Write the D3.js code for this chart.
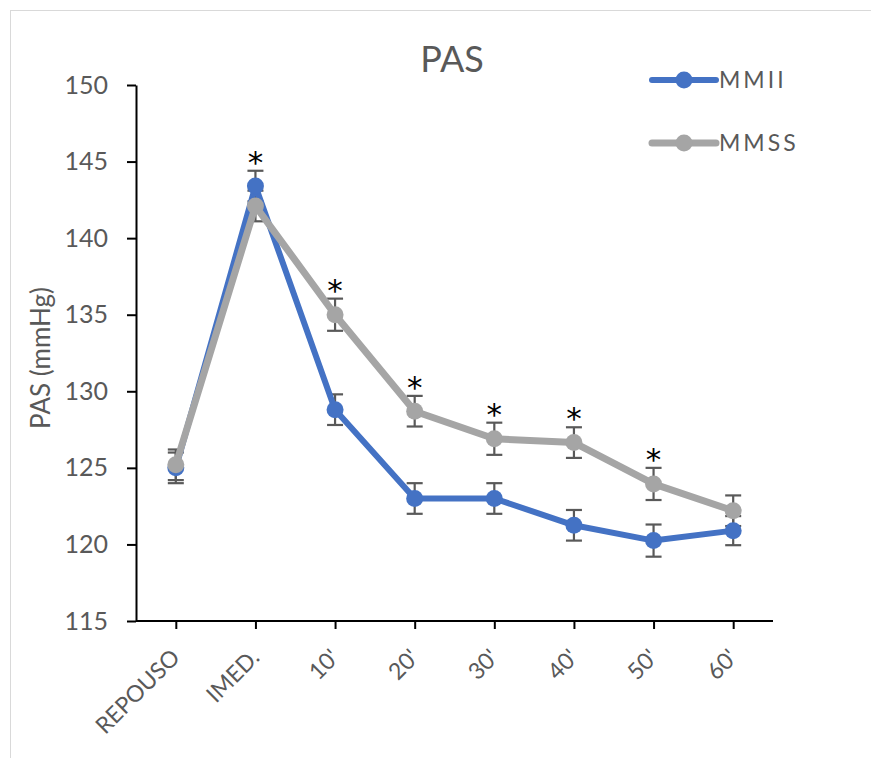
<!DOCTYPE html>
<meta charset="utf-8">
<style>
body { margin: 0; background: #fff; }
svg { font-family: Lato, "Open Sans", sans-serif; }
.axis path, .axis line { stroke: #000; stroke-width: 2; }
.axis text { fill: #595959; }
</style>
<body>
<svg width="871" height="758"></svg>
<script src="https://cdn.jsdelivr.net/npm/d3@7"></script>
<script>

// data
var categories = ["REPOUSO", "IMED.", "10'", "20'", "30'", "40'", "50'", "60'"];
var mmii = [125.0, 143.4, 128.8, 123.0, 123.0, 121.25, 120.25, 120.9];
var mmiiErr = [1.0, 1.0, 1.0, 1.0, 1.0, 1.0, 1.05, 0.95];
var mmss = [125.2, 142.1, 135.0, 128.7, 126.9, 126.65, 123.95, 122.2];
var mmssErr = [1.0, 1.0, 1.05, 1.0, 1.05, 1.0, 1.05, 1.0];
var signif = [false, true, true, true, true, true, true, false];
var yTicks = [115, 120, 125, 130, 135, 140, 145, 150];

var series = [
  {name: "MMII", values: mmii, err: mmiiErr, color: "#4472C4", width: 6},
  {name: "MMSS", values: mmss, err: mmssErr, color: "#A5A5A5", width: 7}
];

var svg = d3.select("svg");

// outer frame
svg.append("rect")
    .attr("x", 10.5).attr("y", 10.5)
    .attr("width", 880).attr("height", 800)
    .attr("fill", "none")
    .attr("stroke", "#d9d9d9");

var plotLeft = 136, plotRight = 773, plotTop = 85, plotBottom = 621;

var x = d3.scalePoint().domain(categories).range([plotLeft, plotRight]).padding(0.5);
var y = d3.scaleLinear().domain([115, 150]).range([plotBottom, plotTop]);

// y axis
var yAxis = svg.append("g")
    .attr("class", "axis")
    .attr("transform", "translate(" + plotLeft + ",0)")
    .call(d3.axisLeft(y).tickValues(yTicks).tickSize(9).tickSizeOuter(0).tickPadding(19));
yAxis.attr("font-family", null).attr("font-size", null);
yAxis.selectAll("text").style("font-size", "25px");

// x axis
var xAxis = svg.append("g")
    .attr("class", "axis")
    .attr("transform", "translate(0," + plotBottom + ")")
    .call(d3.axisBottom(x).tickSize(8).tickSizeOuter(0));
xAxis.attr("font-family", null).attr("font-size", null);
xAxis.select("path").attr("d", "M" + plotLeft + ",0H" + plotRight);
xAxis.selectAll("text")
    .style("font-size", "23px")
    .style("text-anchor", "end")
    .attr("dy", null)
    .attr("y", 0)
    .attr("transform", "translate(5,38) rotate(-45)");

// title
svg.append("text")
    .attr("x", 452).attr("y", 72)
    .attr("text-anchor", "middle")
    .style("font-size", "36px")
    .style("fill", "#595959")
    .text("PAS");

// y axis label
svg.append("text")
    .attr("transform", "translate(50,358) rotate(-90)")
    .attr("text-anchor", "middle")
    .style("font-size", "26px")
    .style("fill", "#595959")
    .text("PAS (mmHg)");

// error bars
series.forEach(function(s) {
  var g = svg.append("g").attr("stroke", "#595959").attr("stroke-width", 2.2);
  s.values.forEach(function(v, i) {
    var cx = x(categories[i]);
    var y1 = y(v + s.err[i]), y2 = y(v - s.err[i]);
    g.append("line").attr("x1", cx).attr("x2", cx).attr("y1", y1).attr("y2", y2);
    g.append("line").attr("x1", cx - 8).attr("x2", cx + 8).attr("y1", y1).attr("y2", y1);
    g.append("line").attr("x1", cx - 8).attr("x2", cx + 8).attr("y1", y2).attr("y2", y2);
  });
});

var line = d3.line()
    .x(function(d, i) { return x(categories[i]); })
    .y(function(d) { return y(d); });

series.forEach(function(s) {
  svg.append("path")
      .attr("d", line(s.values))
      .attr("fill", "none")
      .attr("stroke", s.color)
      .attr("stroke-width", s.width)
      .attr("stroke-linejoin", "round");
  svg.selectAll(null)
      .data(s.values)
      .enter().append("circle")
      .attr("cx", function(d, i) { return x(categories[i]); })
      .attr("cy", function(d) { return y(d); })
      .attr("r", 8.5)
      .attr("fill", s.color);
});

// significance asterisks
categories.forEach(function(c, i) {
  if (!signif[i]) return;
  var topVal = Math.max(mmii[i] + mmiiErr[i], mmss[i] + mmssErr[i]);
  svg.append("text")
      .attr("x", x(c)).attr("y", y(topVal) + 2)
      .attr("text-anchor", "middle")
      .style("font-family", "'DejaVu Sans', sans-serif")
      .style("font-size", "31px")
      .style("fill", "#000")
      .text("*");
});

// legend
series.forEach(function(s, i) {
  var ly = 80 + i * 63;
  svg.append("line")
      .attr("x1", 652).attr("x2", 716).attr("y1", ly).attr("y2", ly)
      .attr("stroke", s.color).attr("stroke-width", s.width)
      .attr("stroke-linecap", "round");
  svg.append("circle")
      .attr("cx", 684).attr("cy", ly).attr("r", 8.5).attr("fill", s.color);
  svg.append("text")
      .attr("x", 719).attr("y", ly).attr("dy", "0.36em")
      .style("font-size", "23px")
      .style("fill", "#595959")
      .style("letter-spacing", "3px")
      .text(s.name);
});

</script>
</body>
